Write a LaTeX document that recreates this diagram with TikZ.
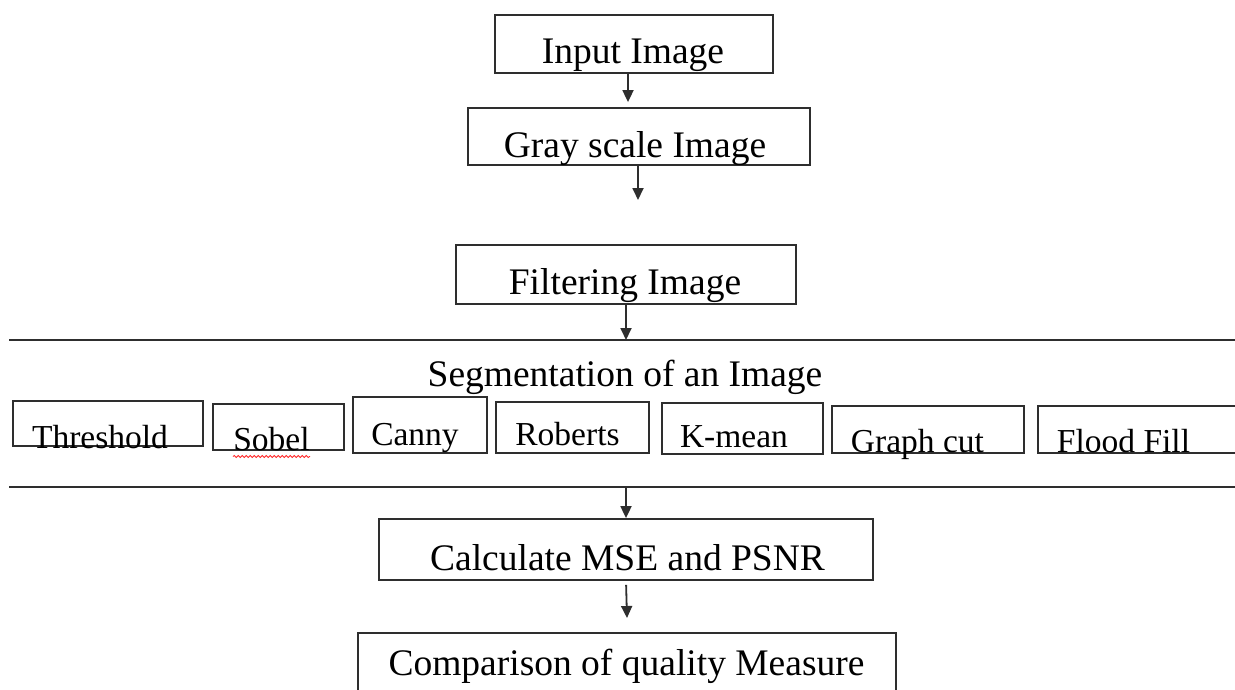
\documentclass[tikz,border=0pt]{standalone}
\usepackage{fontspec}
\setmainfont{Liberation Serif}
\usetikzlibrary{arrows.meta,decorations.pathmorphing}

\tikzset{
  stagebox/.style={draw=black!82, line width=1.8pt, rectangle, inner sep=0pt},
  bigtext/.style={anchor=base, inner sep=0pt, font=\fontsize{37.5}{40}\selectfont},
  smalltext/.style={anchor=base, inner sep=0pt, font=\fontsize{33.5}{36}\selectfont},
  flowarrow/.style={draw=black!82, line width=1.8pt, -{Triangle[length=12pt,width=11pt]}},
  divider/.style={draw=black!82, line width=2pt},
  squiggle/.style={draw=red!85, line width=0.8pt,
    decorate, decoration={snake, amplitude=1.1pt, segment length=4pt}}
}

\begin{document}
\begin{tikzpicture}[x=1pt,y=-1pt]
  \useasboundingbox (0,0) rectangle (1235,689);

  % main pipeline boxes
  \node[stagebox, minimum width=278pt, minimum height=58pt] (input)  at (634,44)    {};
  \node[stagebox, minimum width=342pt, minimum height=57pt] (gray)   at (639,136.5) {};
  \node[stagebox, minimum width=340pt, minimum height=59pt] (filter) at (626,274.5) {};
  \node[stagebox, minimum width=494pt, minimum height=61pt] (mse)    at (626,549.5) {};
  \node[stagebox, minimum width=538pt, minimum height=67pt] (comp)   at (627,666.5) {};

  \node[bigtext] (inputT)  at (633,63)    {Input Image};
  \node[bigtext] (grayT)   at (635,157)   {Gray scale Image};
  \node[bigtext] (filterT) at (625,294)   {Filtering Image};
  \node[bigtext] (msetT)   at (627.5,570) {Calculate MSE and PSNR};
  \node[bigtext] (compT)   at (626.5,675) {Comparison of quality Measure};

  % segmentation band
  \coordinate (L1a) at (9,340);
  \coordinate (L1b) at (1235,340);
  \coordinate (L2a) at (9,487);
  \coordinate (L2b) at (1235,487);
  \draw[divider] (L1a) -- (L1b);
  \draw[divider] (L2a) -- (L2b);

  \node[bigtext] (segT) at (625,386) {Segmentation of an Image};

  % segmentation methods
  \node[stagebox, minimum width=190pt, minimum height=45pt] (thr)   at (108,423.5)  {};
  \node[stagebox, minimum width=131pt, minimum height=46pt] (sob)   at (278.5,427)  {};
  \node[stagebox, minimum width=134pt, minimum height=56pt] (can)   at (420,425)    {};
  \node[stagebox, minimum width=153pt, minimum height=51pt] (rob)   at (572.5,427.5){};
  \node[stagebox, minimum width=161pt, minimum height=51pt] (kme)   at (742.5,428.5){};
  \node[stagebox, minimum width=192pt, minimum height=47pt] (gcut)  at (928,429.5)  {};
  \node[stagebox, minimum width=207pt, minimum height=47pt] (flood) at (1141.5,429.5){};

  \node[smalltext] (thrT)   at (100,448)    {Threshold};
  \node[smalltext] (sobT)   at (271.5,450)  {Sobel};
  \node[smalltext] (canT)   at (415,445)    {Canny};
  \node[smalltext] (robT)   at (567.5,445)  {Roberts};
  \node[smalltext] (kmeT)   at (734,447)    {K-mean};
  \node[smalltext] (gcutT)  at (917.5,452)  {Graph cut};
  \node[smalltext] (floodT) at (1123.5,452) {Flood Fill};

  \coordinate (sq1) at (233,456.5);
  \coordinate (sq2) at (310,456.5);
  \draw[squiggle] (sq1) -- (sq2);

  % connectors
  \coordinate (grayEnd) at (638,200);
  \coordinate (mseEnd)  at (627,618);
  \draw[flowarrow, shorten >=5pt] ([xshift=-6pt]input.south) -- ([xshift=-11pt]gray.north);
  \draw[flowarrow] (gray.south -| grayEnd) -- (grayEnd);
  \draw[flowarrow] (filter.south) -- (filter.south |- L1a);
  \draw[flowarrow] (mse.north |- L2a) -- (mse.north);
  \draw[flowarrow, shorten <=4pt] (mse.south) -- (mseEnd);
\end{tikzpicture}
\end{document}
